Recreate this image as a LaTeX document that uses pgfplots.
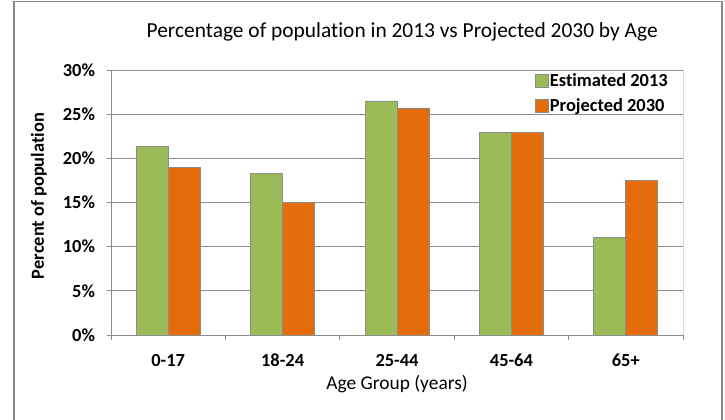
\documentclass[border=0pt]{standalone}
\usepackage{pgfplots}
\pgfplotsset{compat=1.18}
\usepackage{fontspec}
\setmainfont{Carlito}[Ligatures=NoCommon]
\definecolor{grn}{HTML}{9BBB59}
\definecolor{org}{HTML}{E46C0A}
\definecolor{gridc}{HTML}{8C8C8C}
\definecolor{framec}{HTML}{8A8A8A}
\begin{document}
\begin{tikzpicture}[x=1bp,y=1bp]
\useasboundingbox (0,0) rectangle (725,419);
\draw[framec, line width=1.3bp] (14,-20) rectangle (722,417.5);
\begin{axis}[
  at={(111bp,84bp)}, anchor=south west,
  scale only axis, width=572bp, height=265bp,
  ybar=0pt, bar width=32bp,
  xmin=-0.5, xmax=4.5, ymin=0, ymax=30,
  xtick={-0.5,0.5,1.5,2.5,3.5,4.5},
  x tick label as interval,
  xticklabels={0-17,18-24,25-44,45-64,65+},
  ytick={0,5,10,15,20,25,30},
  yticklabel={\pgfmathprintnumber{\tick}\%},
  /pgf/number format/assume math mode=true,
  axis x line*=bottom, axis y line*=left,
  axis line style={draw=gridc, line width=0.9bp},
  tick align=outside, major tick length=4.5bp,
  tick style={draw=gridc, line width=0.9bp},
  ymajorgrids, grid style={draw=gridc, line width=0.9bp},
  tick label style={font=\bfseries\fontsize{18.5}{20}\selectfont},
  xticklabel style={yshift=-11bp},
  yticklabel style={xshift=-8bp},
  title={Percentage of population in 2013 vs Projected 2030 by Age},
  title style={at={(axis description cs:0.509,1.1019)}, anchor=base, font=\fontsize{21.5}{24}\selectfont},
  xlabel={Age Group (years)},
  xlabel style={at={(axis description cs:0.5,-0.2075)}, anchor=base, font=\fontsize{19.5}{22}\selectfont},
  ylabel={Percent of population},
  ylabel style={at={(axis description cs:-0.126,0.5245)}, anchor=center, font=\bfseries\fontsize{18.5}{21}\selectfont},
  legend style={at={(rel axis cs:0.978,1.0)}, anchor=north east, draw=none, fill=none,
    font=\bfseries\fontsize{18.5}{20}\selectfont, row sep=6.5bp, inner sep=1bp,
    nodes={inner xsep=1.5bp, inner ysep=2bp}},
  legend cell align=left,
  legend image code/.code={\draw[#1, draw=gridc, line width=0.6bp] (0bp,-6.5bp) rectangle (13bp,6.5bp);},
  clip=false,
]
\addplot[fill=grn, draw=gridc, line width=0.8bp] coordinates {(0,21.3) (1,18.3) (2,26.5) (3,22.9) (4,11.0)};
\addplot[fill=org, draw=gridc, line width=0.8bp] coordinates {(0,18.95) (1,15.0) (2,25.7) (3,22.9) (4,17.5)};
\legend{Estimated 2013, Projected 2030}
\draw[gray!30, line width=0.9bp] (rel axis cs:1,0) -- (rel axis cs:1,1);
\end{axis}
\end{tikzpicture}
\end{document}
